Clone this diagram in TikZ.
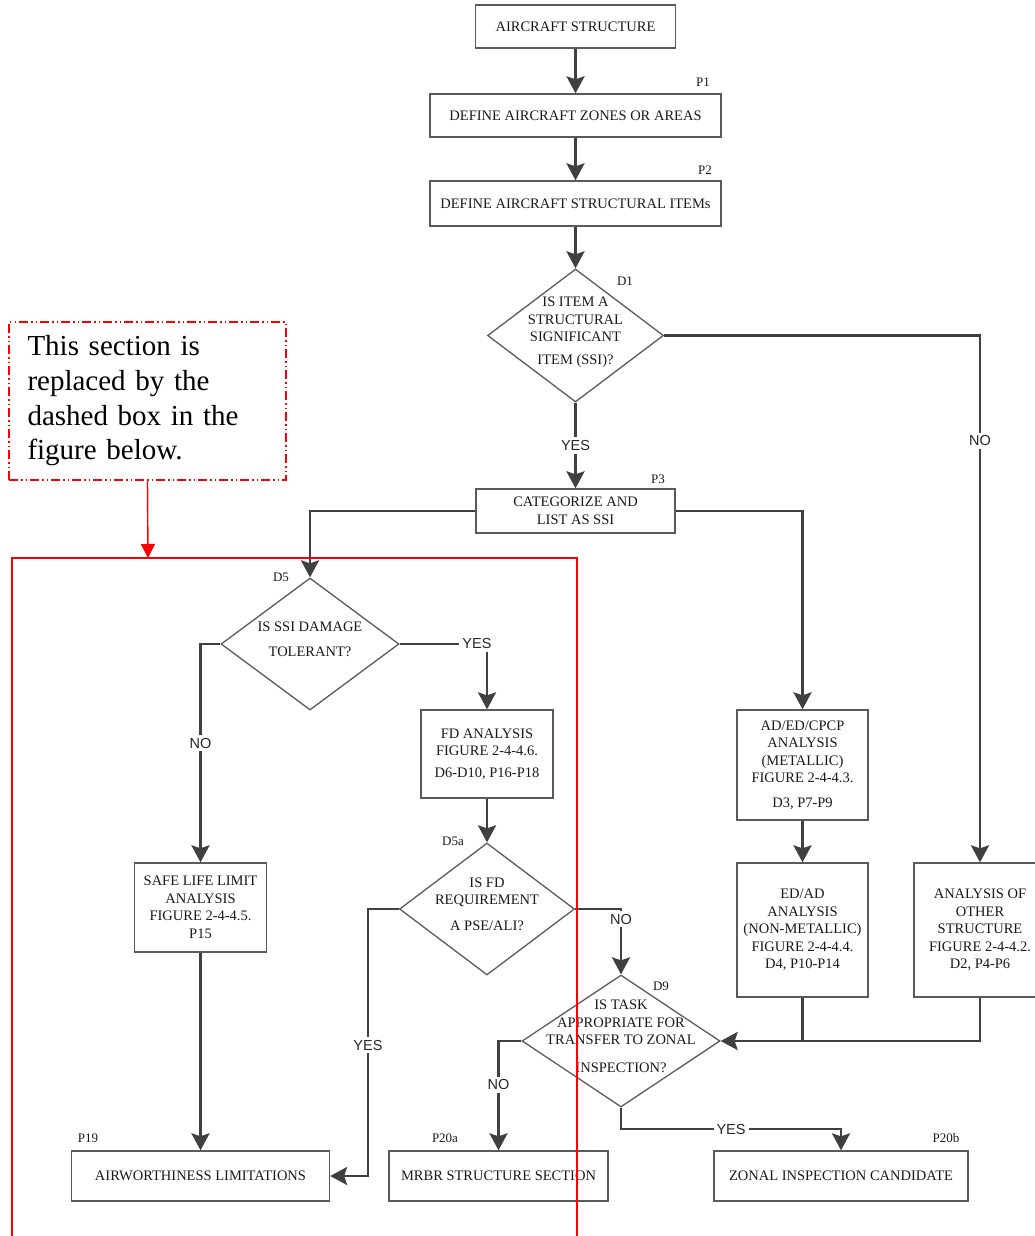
\documentclass[tikz,border=0pt]{standalone}
\usepackage{fontspec}
\setmainfont{Liberation Serif}
\newfontfamily\yesnofont{Liberation Sans}
\usetikzlibrary{arrows.meta,shapes.geometric}
\definecolor{linegray}{HTML}{404040}
\definecolor{boxgray}{HTML}{5A5A5A}
\newcommand{\dtext}[1]{\smash{\makebox[0pt]{\begin{tabular}{@{}c@{}}#1\end{tabular}}}}

\begin{document}
\begin{tikzpicture}[x=1pt,y=-1pt,
	box/.style={draw=boxgray,line width=1.3pt,rectangle,inner sep=0pt,align=center,text=black!90,font=\fontsize{14.5}{17.5}\selectfont},
	dec/.style={draw=boxgray,line width=1.3pt,diamond,inner sep=0pt,text=black!90,font=\fontsize{14.5}{17.5}\selectfont},
	conn/.style={draw=linegray,line width=2.8pt,-{Stealth[length=17pt,width=18pt,inset=3pt]}},
	wire/.style={draw=linegray,line width=2.8pt},
	tag/.style={inner sep=0pt,text=black!90,font=\fontsize{13}{14}\selectfont},
	yn/.style={fill=white,inner sep=3pt,text=black!85,font=\yesnofont\fontsize{14.5}{17}\selectfont}]
	\useasboundingbox (0,0) rectangle (1034,1236);

	% Top column
	\node[box,minimum width=200pt,minimum height=43pt] (acs) at (575.5,26.5) {AIRCRAFT STRUCTURE};
	\node[box,minimum width=291pt,minimum height=43pt] (zones) at (575.5,115.5) {DEFINE AIRCRAFT ZONES OR AREAS};
	\node[box,minimum width=291pt,minimum height=45pt] (items) at (575.5,203.5) {DEFINE AIRCRAFT STRUCTURAL ITEMs};
	\node[dec,minimum width=176pt,minimum height=133pt] (d1) at (575.5,335.5) {\dtext{IS ITEM A\\ STRUCTURAL\\ SIGNIFICANT\\[5pt] ITEM (SSI)?}};
	\node[box,minimum width=199pt,minimum height=44pt] (p3) at (575.5,511) {CATEGORIZE AND\\ LIST AS SSI};

	% Left branch
	\node[dec,minimum width=178pt,minimum height=132pt] (d5) at (310,644) {\dtext{IS SSI DAMAGE\\[7pt] TOLERANT?}};
	\node[box,minimum width=132pt,minimum height=88pt] (fd) at (487,754) {FD ANALYSIS\\ FIGURE 2-4-4.6.\\[4pt] D6-D10, P16-P18};
	\node[dec,minimum width=175pt,minimum height=132pt] (d5a) at (487,909) {\dtext{IS FD\\ REQUIREMENT\\[8pt] A PSE/ALI?}};
	\node[box,minimum width=132pt,minimum height=89pt] (safe) at (200.5,907.5) {SAFE LIFE LIMIT\\ ANALYSIS\\ FIGURE 2-4-4.5.\\ P15};
	\node[dec,minimum width=198pt,minimum height=132pt] (d9) at (621,1041) {\dtext{IS TASK\\ APPROPRIATE FOR\\ TRANSFER TO ZONAL\\[10pt] INSPECTION?}};

	% Right branch
	\node[box,minimum width=131pt,minimum height=110pt] (adcp) at (802.5,765) {AD/ED/CPCP\\ ANALYSIS\\ (METALLIC)\\ FIGURE 2-4-4.3.\\[7pt] D3, P7-P9};
	\node[box,minimum width=131pt,minimum height=134pt] (edad) at (802.5,930) {ED/AD\\ ANALYSIS\\ (NON-METALLIC)\\ FIGURE 2-4-4.4.\\ D4, P10-P14};
	\node[box,minimum width=132pt,minimum height=134pt] (other) at (980,930) {ANALYSIS OF\\ OTHER\\ STRUCTURE\\ FIGURE 2-4-4.2.\\ D2, P4-P6};

	% Bottom row
	\node[box,minimum width=258pt,minimum height=50pt] (airw) at (200.5,1176) {AIRWORTHINESS LIMITATIONS};
	\node[box,minimum width=219pt,minimum height=50pt] (mrbr) at (498.5,1176) {MRBR STRUCTURE SECTION};
	\node[box,minimum width=254pt,minimum height=50pt] (zonal) at (841,1176) {ZONAL INSPECTION CANDIDATE};

	% Step numbers
	\node[tag] (tp1) at (703,82) {P1};
	\node[tag] (tp2) at (705,170) {P2};
	\node[tag] (td1) at (625,281) {D1};
	\node[tag] (tp3) at (658,479) {P3};
	\node[tag] (td5) at (281,577) {D5};
	\node[tag] (td5a) at (453,841) {D5a};
	\node[tag] (td9) at (661,986) {D9};
	\node[tag] (tp19) at (88,1138) {P19};
	\node[tag] (tp20a) at (445,1138) {P20a};
	\node[tag] (tp20b) at (946,1138) {P20b};

	\coordinate (bendyes) at (368,1176);
	\coordinate (bendzone) at (841,1129);

	\draw[conn] (acs) -- (zones);
	\draw[conn] (zones) -- (items);
	\draw[conn] (items) -- (d1);
	\draw[conn] (d1) -- node[yn] (yes1) {YES} (p3);
	\draw[conn] (d1.east) -| node[yn,pos=0.6] (no1) {NO} (other.north);
	\draw[conn] (p3.west) -| (d5.north);
	\draw[conn] (p3.east) -| (adcp.north);
	\draw[conn] (d5.west) -| node[yn,pos=0.727] (no2) {NO} (safe.north);
	\draw[conn] (d5.east) -| node[yn,pos=0.5,xshift=-10pt] (yes2) {YES} (fd.north);
	\draw[conn] (fd) -- (d5a);
	\draw[conn] (safe) -- (airw);
	\draw[conn] (d5a.west) -| node[yn,pos=0.755] (yes3) {YES} (bendyes) -- (airw.east);
	\draw[conn] (d5a.east) -| node[yn,pos=0.5,yshift=-10pt] (no3) {NO} (d9.north);
	\draw[conn] (d9.west) -| node[yn,pos=0.7] (no4) {NO} (mrbr.north);
	\draw[conn] (d9.south) |- node[yn,pos=0.75] (yes4) {YES} (bendzone) -- (zonal.north);
	\draw[conn] (adcp) -- (edad);
	\draw[conn] (other.south) |- (d9.east);
	\draw[wire] (edad.south) -- (edad.south |- d9.east); % joins the line into D9

	% Red note and frame
	\node[draw=red,line width=1.4pt,dash pattern=on 9pt off 3pt on 1.5pt off 3pt on 1.5pt off 3pt,
		minimum width=277pt,minimum height=158pt,text width=240pt,align=left,inner sep=0pt,
		font=\fontsize{29}{34.7}\selectfont] (note) at (147.5,401) {This section is\\ replaced by the\\ dashed box in the\\ figure below.};
	\coordinate (frametop) at (148,558);
	\draw[red,line width=1.6pt] (12,1240) -- (12,558) -- (577,558) -- (577,1240);
	\draw[red,line width=1.4pt,-{Triangle[length=14pt,width=14pt]}] (note.south) -- (frametop);
\end{tikzpicture}
\end{document}
